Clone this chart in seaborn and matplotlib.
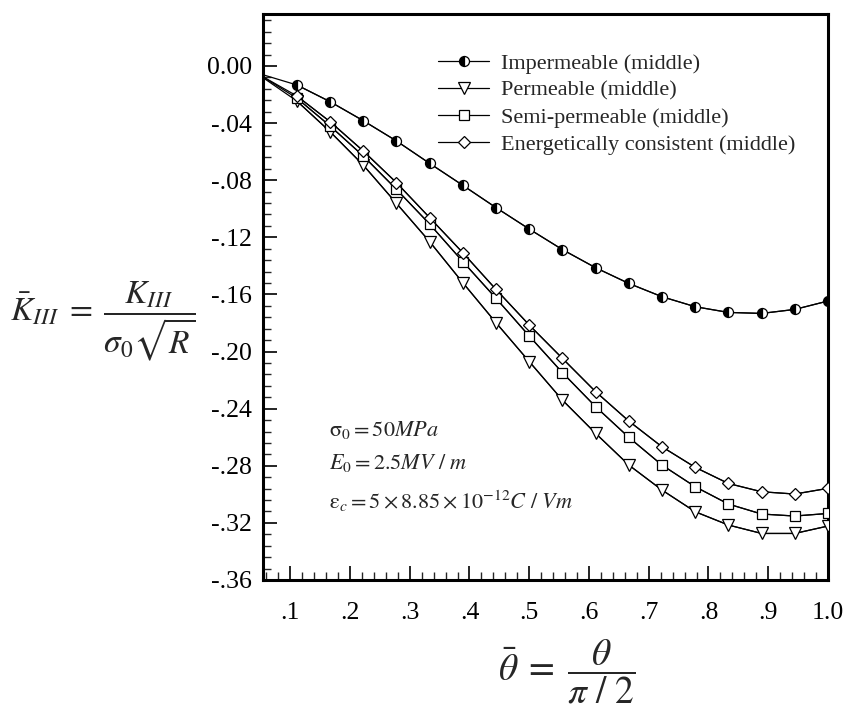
import numpy as np
import pandas as pd
import matplotlib
matplotlib.use("Agg")
import matplotlib.pyplot as plt
import seaborn as sns
from matplotlib.ticker import FixedLocator, MultipleLocator, FuncFormatter

# ---- data ----
theta_bar = [0.0556, 0.1111, 0.1667, 0.2222, 0.2778, 0.3333, 0.3889, 0.4444, 0.5,
             0.5556, 0.6111, 0.6667, 0.7222, 0.7778, 0.8333, 0.8889, 0.9444, 1.0]
impermeable = [-0.0063, -0.0133, -0.0250, -0.0383, -0.0525, -0.0682, -0.0836, -0.0992, -0.1142,
               -0.1286, -0.1413, -0.1523, -0.1616, -0.1686, -0.1726, -0.1733, -0.1705, -0.1646]
permeable = [-0.0085, -0.0245, -0.0460, -0.0694, -0.0962, -0.1230, -0.1518, -0.1798, -0.2070,
             -0.2340, -0.2573, -0.2795, -0.2970, -0.3122, -0.3215, -0.3274, -0.3274, -0.3222]
semi_permeable = [-0.0080, -0.0225, -0.0420, -0.0630, -0.0864, -0.1107, -0.1370, -0.1627, -0.1891,
                  -0.2148, -0.2386, -0.2601, -0.2795, -0.2947, -0.3068, -0.3138, -0.3152, -0.3134]
energetic = [-0.0078, -0.0210, -0.0390, -0.0595, -0.0817, -0.1062, -0.1308, -0.1565, -0.1814,
             -0.2048, -0.2281, -0.2487, -0.2667, -0.2811, -0.2924, -0.2982, -0.2998, -0.2958]
labels = ["Impermeable (middle)", "Permeable (middle)",
          "Semi-permeable (middle)", "Energetically consistent (middle)"]
y_ticks = [0.00, -0.04, -0.08, -0.12, -0.16, -0.20, -0.24, -0.28, -0.32, -0.36]
y_ticklabels = ["0.00", "-.04", "-.08", "-.12", "-.16", "-.20", "-.24", "-.28", "-.32", "-.36"]
x_ticks = [0.1, 0.2, 0.3, 0.4, 0.5, 0.6, 0.7, 0.8, 0.9, 1.0]
x_ticklabels = [".1", ".2", ".3", ".4", ".5", ".6", ".7", ".8", ".9", "1.0"]
notes = [r"$\mathrm{\sigma}_0 = 50MPa$",
         r"$E_0 = 2.5MV\ /\ m$",
         r"$\mathrm{\varepsilon}_c = 5\times8.85\times10^{-12}C\ /\ Vm$"]

sns.set_style("white")
plt.rcParams["font.family"] = ["Liberation Serif", "DejaVu Serif"]
plt.rcParams["mathtext.fontset"] = "stix"

fig = plt.figure(figsize=(8.45, 7.05), dpi=100)
ax = fig.add_axes([263/845, 1-580/705, (828-263)/845, (580-14)/705])

series = [impermeable, permeable, semi_permeable, energetic]
styles = [
    dict(marker="o", markersize=7.2, fillstyle="left", markerfacecolor="k",
         markerfacecoloralt="w", markeredgecolor="k"),
    dict(marker="v", markersize=8, markerfacecolor="w", markeredgecolor="k"),
    dict(marker="s", markersize=7, markerfacecolor="w", markeredgecolor="k"),
    dict(marker="D", markersize=6.2, markerfacecolor="w", markeredgecolor="k"),
]
for vals, lab, st in zip(series, labels, styles):
    df = pd.DataFrame({"x": theta_bar, "y": vals})
    # full line (extends to the left edge)
    sns.lineplot(data=df, x="x", y="y", color="k", linewidth=0.9, ax=ax,
                 legend=False, zorder=2)
    # marked portion
    sns.lineplot(data=df.iloc[1:], x="x", y="y", color="k", linewidth=0.9, ax=ax,
                 label=lab, markeredgewidth=0.9, zorder=3, **st)

ax.set_xlim(0.0545, 1.0)
ax.set_ylim(-0.36, 0.0364)
ax.set_xlabel("")
ax.set_ylabel("")

ax.yaxis.set_major_locator(FixedLocator(y_ticks))
ax.yaxis.set_major_formatter(FuncFormatter(lambda v, p: y_ticklabels[
    int(np.argmin([abs(v - t) for t in y_ticks]))]))
ax.yaxis.set_minor_locator(MultipleLocator(0.008))
ax.xaxis.set_major_locator(FixedLocator(x_ticks))
ax.xaxis.set_major_formatter(FuncFormatter(lambda v, p: x_ticklabels[
    int(np.argmin([abs(v - t) for t in x_ticks]))]))
ax.xaxis.set_minor_locator(MultipleLocator(0.02))

ax.tick_params(axis="both", which="major", direction="in", length=10, width=1.2,
               labelsize=18.5, colors="k")
ax.tick_params(axis="both", which="minor", direction="in", length=5.5, width=1.0)
ax.tick_params(axis="y", which="both", left=True, right=False, pad=8)
ax.tick_params(axis="x", which="both", bottom=True, top=False, pad=16)

for s in ax.spines.values():
    s.set_linewidth(2.2)
    s.set_color("k")
    s.set_visible(True)

leg = ax.legend(loc="upper left", bbox_to_anchor=(438/845, 1-53/705),
                bbox_transform=fig.transFigure, frameon=False, fontsize=16,
                handlelength=2.3, handletextpad=0.55, labelspacing=0.3,
                borderpad=0, borderaxespad=0)

for i, t in enumerate(notes):
    fig.text(329/845, 1-[430, 463, 501][i]/705, t, fontsize=16, va="center", ha="left")

fig.text(103/845, 1-322/705,
         r"$\bar{K}_{III}\;=\;\dfrac{K_{III}}{\sigma_0\sqrt{R}}$",
         fontsize=24, ha="center", va="center")
fig.text(567/845, 1-672/705,
         r"$\bar{\theta}\;=\;\dfrac{\theta}{\pi\ /\ 2}$",
         fontsize=27, ha="center", va="center")

fig.savefig("out.png", dpi=100)
